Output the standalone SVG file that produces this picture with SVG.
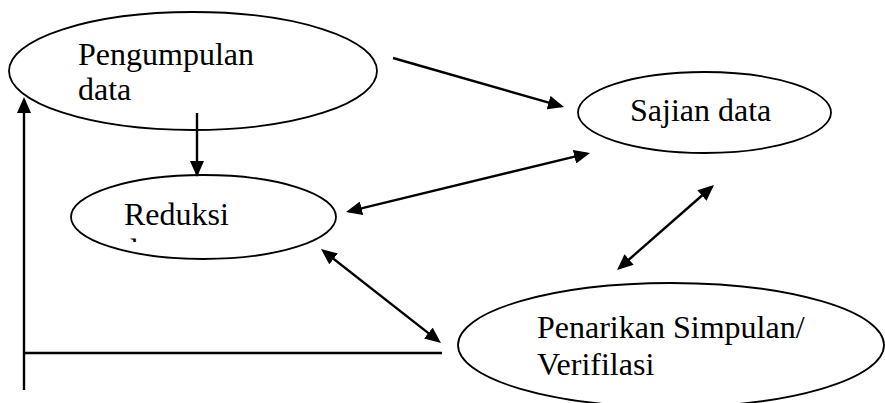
<svg xmlns="http://www.w3.org/2000/svg" width="885" height="403" viewBox="0 0 885 403">
<style>
.node ellipse{fill:#fff;stroke:#000;stroke-width:1.8}
.lbl{font-family:"Liberation Serif","Times New Roman",serif;font-size:32px;fill:#000}
.conn line{stroke:#000;stroke-width:2.4;stroke-linecap:butt}
</style>
<defs>
<marker id="ah" markerUnits="userSpaceOnUse" markerWidth="16" markerHeight="14" refX="13" refY="7" orient="auto-start-reverse">
<path d="M0,0 L16,7 L0,14 z" fill="#000"/>
</marker>
<clipPath id="clipRed"><rect x="100" y="180" width="200" height="62"/></clipPath>
</defs>
<rect width="885" height="403" fill="#fff"/>
<g id="n-pengumpulan" class="node">
<ellipse cx="193" cy="71" rx="184" ry="59"/>
<text class="lbl" x="78" y="65">Pengumpulan</text>
<text class="lbl" x="78" y="100">data</text>
</g>
<g id="n-sajian" class="node">
<ellipse cx="704.5" cy="112.5" rx="126.5" ry="40.5"/>
<text class="lbl" x="630" y="121">Sajian data</text>
</g>
<g id="n-reduksi" class="node">
<ellipse cx="203.5" cy="217" rx="132.5" ry="42"/>
<text class="lbl" x="124" y="225">Reduksi</text>
<text class="lbl" x="122" y="261" clip-path="url(#clipRed)">data</text>
</g>
<g id="n-penarikan" class="node">
<ellipse cx="671" cy="345" rx="213" ry="62"/>
<text class="lbl" x="537" y="338">Penarikan Simpulan/</text>
<text class="lbl" x="537" y="375">Verifilasi</text>
</g>
<g id="connectors" class="conn">
<line x1="24" y1="390" x2="24" y2="100" marker-end="url(#ah)"/>
<line x1="23" y1="353" x2="442" y2="353"/>
<line x1="197" y1="113" x2="197" y2="174" marker-end="url(#ah)"/>
<line x1="393" y1="58" x2="561.1" y2="106.2" marker-end="url(#ah)"/>
<line x1="348.9" y1="211.3" x2="587.1" y2="153.7" marker-start="url(#ah)" marker-end="url(#ah)"/>
<line x1="323.4" y1="250.9" x2="438.6" y2="341.1" marker-start="url(#ah)" marker-end="url(#ah)"/>
<line x1="711.7" y1="187" x2="619.3" y2="268" marker-start="url(#ah)" marker-end="url(#ah)"/>
</g>
</svg>
